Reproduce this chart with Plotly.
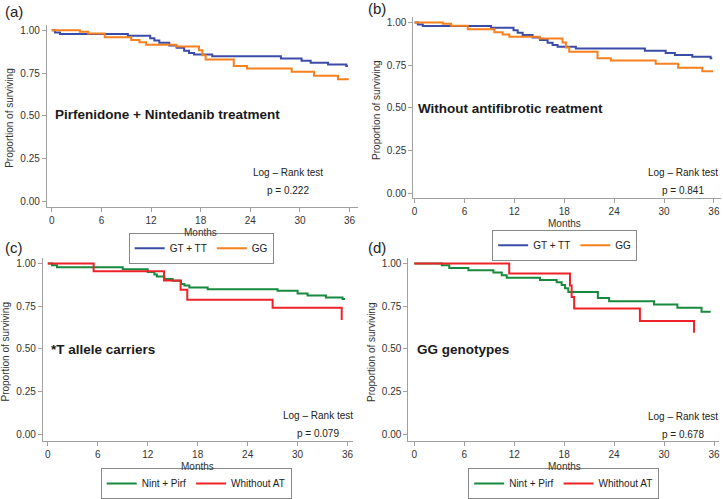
import plotly.graph_objects as go

# survival curves, months / proportion surviving
# panels (a) and (b): GT + TT vs GG
gt_tt_t = [0, 0.4, 1.0, 9.2, 11.9, 12.4, 13.0, 14.2, 15.1, 16.0, 16.6, 17.2, 19.4, 27.7, 30.2, 31.3, 33.4, 35.6, 35.8]
gt_tt_s = [1.0, 0.988, 0.979, 0.969, 0.954, 0.940, 0.927, 0.912, 0.898, 0.881, 0.868, 0.858, 0.848, 0.835, 0.822, 0.810, 0.800, 0.791, 0.791]
gg_t = [0, 3.4, 4.4, 6.4, 9.6, 10.6, 11.4, 15.0, 17.8, 18.2, 18.6, 22.0, 23.6, 29.0, 31.7, 34.6, 35.9]
gg_s = [1.0, 0.992, 0.981, 0.960, 0.943, 0.930, 0.916, 0.906, 0.883, 0.854, 0.829, 0.791, 0.777, 0.758, 0.735, 0.714, 0.714]

# panel (c): T allele carriers
t_nint_t = [0, 0.5, 1.1, 9.0, 12.0, 12.8, 13.1, 14.0, 15.0, 16.0, 16.4, 17.0, 19.2, 27.6, 30.0, 31.2, 33.4, 35.4, 35.7]
t_nint_s = [1.0, 0.989, 0.977, 0.966, 0.950, 0.935, 0.923, 0.908, 0.898, 0.879, 0.870, 0.858, 0.849, 0.839, 0.824, 0.812, 0.800, 0.791, 0.791]
t_wat_t = [0, 5.5, 13.95, 15.95, 16.75, 27.0, 35.3]
t_wat_s = [1.0, 0.954, 0.900, 0.845, 0.787, 0.740, 0.668]

# panel (d): GG genotypes
g_nint_t = [0, 3.3, 4.2, 6.5, 9.5, 10.5, 11.1, 15.1, 17.1, 17.7, 18.1, 18.5, 22.05, 23.4, 28.8, 31.6, 34.5, 35.6]
g_nint_s = [1.0, 0.989, 0.973, 0.960, 0.946, 0.931, 0.916, 0.902, 0.889, 0.874, 0.854, 0.832, 0.797, 0.778, 0.759, 0.740, 0.717, 0.717]
g_wat_t = [0, 11.4, 18.7, 18.9, 19.2, 27.1, 33.6]
g_wat_s = [1.0, 0.940, 0.870, 0.803, 0.735, 0.663, 0.594]

panel_letters = ["(a)", "(b)", "(c)", "(d)"]
panel_titles = ["Pirfenidone + Nintedanib treatment", "Without antifibrotic reatment",
                "*T allele carriers", "GG genotypes"]
p_values = ["p = 0.222", "p = 0.841", "p = 0.079", "p = 0.678"]
x_ticks = [0, 6, 12, 18, 24, 30, 36]
y_ticks = [0, 0.25, 0.5, 0.75, 1.0]

BLUE = "#3b4ca8"
ORANGE = "#f7801f"
GREEN = "#178a3e"
RED = "#ee2229"
FONT = "Liberation Sans, Arial, sans-serif"
W, H = 723, 499

series = [
    (gt_tt_t, gt_tt_s, BLUE, "GT + TT", 1),
    (gg_t, gg_s, ORANGE, "GG", 1),
    (gt_tt_t, gt_tt_s, BLUE, "GT + TT", 2),
    (gg_t, gg_s, ORANGE, "GG", 2),
    (t_nint_t, t_nint_s, GREEN, "Nint + Pirf", 3),
    (t_wat_t, t_wat_s, RED, "Whithout AT", 3),
    (g_nint_t, g_nint_s, GREEN, "Nint + Pirf", 4),
    (g_wat_t, g_wat_s, RED, "Whithout AT", 4),
]

fig = go.Figure()
for t, s, col, name, k in series:
    sfx = "" if k == 1 else str(k)
    fig.add_trace(go.Scatter(x=t, y=s, mode="lines", line=dict(color=col, width=2, shape="hv"),
                             name=name, xaxis="x" + sfx, yaxis="y" + sfx, legend="legend" + sfx))

# pixel boxes of the four plot areas: x0, x1, ytop, ybottom, xrange, yrange
boxes = [
    (45, 357, 25, 211, [-0.6, 36.96], [-0.035, 1.034]),
    (413, 722, 17, 202, [-0.15, 36.85], [-0.03, 1.034]),
    (41, 352, 263, 449, [-0.6, 36.6], [-0.04, 1.03]),
    (408, 720, 263, 449, [-0.72, 36.6], [-0.04, 1.03]),
]

axis_style = dict(showline=True, linecolor="#a0a0a0", linewidth=1, ticks="outside", ticklen=4,
                  tickcolor="#a0a0a0", showgrid=False, zeroline=False,
                  tickfont=dict(family=FONT, size=10, color="#333333"))

layout = dict(width=W, height=H, margin=dict(l=0, r=0, t=0, b=0),
              paper_bgcolor="white", plot_bgcolor="white",
              font=dict(family=FONT, color="#222222"))
annotations = []
for k, (x0, x1, yt, yb, xr, yr) in enumerate(boxes, start=1):
    sfx = "" if k == 1 else str(k)
    layout["xaxis" + sfx] = dict(axis_style, domain=[x0 / W, x1 / W], range=xr, tickvals=x_ticks,
                                 anchor="y" + sfx)
    layout["yaxis" + sfx] = dict(axis_style, domain=[1 - yb / H, 1 - yt / H], range=yr, tickvals=y_ticks,
                                 tickformat=".2f", anchor="x" + sfx)
    left = k in (1, 3)
    # panel letter
    annotations.append(dict(text=panel_letters[k - 1], xref="paper", yref="paper",
                            x=(1 if left else 366) / W, y=1 - ((12 if k == 1 else 9 if k == 2 else 252) / H),
                            xanchor="left", yanchor="middle", showarrow=False,
                            font=dict(size=15, color="#222222")))
    # axis titles
    annotations.append(dict(text="Proportion of surviving", xref="paper", yref="paper",
                            x=(x0 - 37) / W, y=1 - ((yt + yb) / 2 + 2) / H, textangle=-90,
                            xanchor="center", yanchor="middle", showarrow=False,
                            font=dict(size=10, color="#333333")))
    annotations.append(dict(text="Months", xref="x" + sfx, yref="paper", x=18,
                            y=1 - (yb + 26) / H, xanchor="center", yanchor="middle", showarrow=False,
                            font=dict(size=10, color="#333333")))
    # panel title
    annotations.append(dict(text="<b>" + panel_titles[k - 1] + "</b>", xref="x" + sfx, yref="paper",
                            x=0.1 if k != 2 else 0.2, y=1 - ([117, 110, 356, 356][k - 1]) / H,
                            xanchor="left", yanchor="middle", showarrow=False,
                            font=dict(size=13.5, color="#1a1a1a")))
    # log-rank text
    cx = [287, 684, 317, 684][k - 1]
    cy = [176, 176, 423, 424][k - 1]
    annotations.append(dict(text="Log \u2013 Rank test", xref="paper", yref="paper", x=cx / W,
                            y=1 - cy / H, xanchor="center", yanchor="middle", showarrow=False,
                            font=dict(size=10, color="#222222")))
    annotations.append(dict(text=p_values[k - 1], xref="paper", yref="paper", x=cx / W,
                            y=1 - (cy + 18) / H, xanchor="center", yanchor="middle", showarrow=False,
                            font=dict(size=10, color="#222222")))

leg_pos = [(200, 237), (565, 234), (195, 477), (564, 477)]
for k, (lx, ly) in enumerate(leg_pos, start=1):
    sfx = "" if k == 1 else str(k)
    layout["legend" + sfx] = dict(orientation="h", x=lx / W, y=1 - ly / H, xanchor="center", yanchor="top",
                                  bordercolor="#888888", borderwidth=1, bgcolor="white",
                                  font=dict(size=10, color="#222222"), itemwidth=30)

layout["annotations"] = annotations
fig.update_layout(**layout)

fig.write_html("out.html", config={"displayModeBar": False},
               post_script="document.body.style.margin='0';")
